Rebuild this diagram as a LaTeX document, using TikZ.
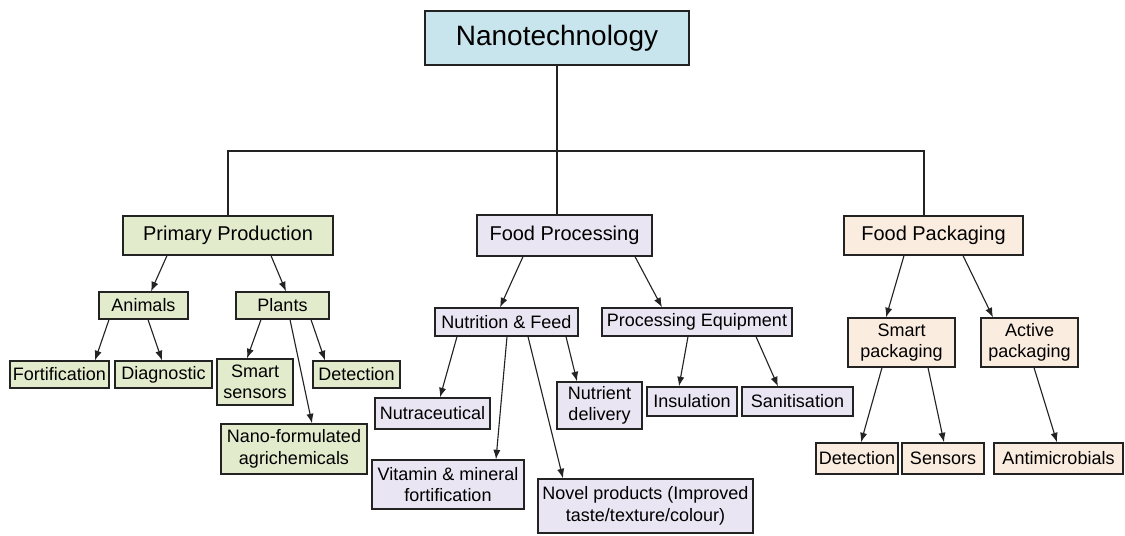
\documentclass[tikz,border=0pt]{standalone}
\usepackage{fontspec}
\setmainfont{Liberation Sans}
\usepackage{xcolor}
\usepackage{tikz}
\usetikzlibrary{arrows.meta,calc}
\definecolor{nanoblue}{RGB}{200,228,236}
\definecolor{softgreen}{RGB}{227,235,205}
\definecolor{softlilac}{RGB}{233,229,242}
\definecolor{softpeach}{RGB}{251,236,224}
\definecolor{darkline}{RGB}{35,35,35}

\begin{document}
\begin{tikzpicture}[x=0.025cm, y=-0.025cm, every node/.style={font=\fontsize{12.8}{15.3}\selectfont, text=black}, box/.style={draw=darkline, line width=0.9pt, align=center, inner sep=0pt}, sz/.style 2 args={minimum width=#1*0.025cm, minimum height=#2*0.025cm}, top/.style={box, fill=nanoblue, line width=1.1pt, font=\fontsize{19.9}{23}\selectfont}, head/.style={box, font=\fontsize{14.2}{17}\selectfont}, gbox/.style={box, fill=softgreen}, lbox/.style={box, fill=softlilac}, pbox/.style={box, fill=softpeach}, arr/.style={-{Latex[length=2.4mm,width=1.8mm]}, line width=0.8pt, draw=darkline}, bus/.style={line width=0.8pt, draw=darkline}]
\useasboundingbox (0,0) rectangle (1125,535);
% root and first level
\node[top, sz={264}{54}] (nano) at (557,38) {Nanotechnology};
\node[head, gbox, sz={210}{39}] (prim) at (228,235.5) {Primary Production};
\node[head, lbox, sz={175}{41}] (proc) at (564.5,235.5) {Food Processing};
\node[head, pbox, sz={179}{39}] (pack) at (933.5,235.5) {Food Packaging};
\coordinate (split) at (557,151);
\draw[bus] (nano.south) -- (nano.south |- proc.north);
\draw[bus] (prim.north) |- (split) -| ($(pack.north)+(-9.5,0)$);
% primary production
\node[gbox, sz={89}{27}] (anim) at (143.5,305.5) {Animals};
\node[gbox, sz={93}{27}] (plant) at (282.5,305.5) {Plants};
\node[gbox, sz={99}{27}] (fort) at (59.5,374.5) {Fortification};
\node[gbox, sz={97}{27}] (diag) at (163.5,374.5) {Diagnostic};
\node[gbox, sz={76}{46}] (smart) at (255,382) {Smart\\sensors};
\node[gbox, sz={87}{27}] (detp) at (356.5,374.5) {Detection};
\node[gbox, sz={146}{50}] (agri) at (294,449) {Nano-formulated\\agrichemicals};
\draw[arr] ($(prim.south)+(-61,0)$) -- ($(anim.north)+(7.5,0)$);
\draw[arr] ($(prim.south)+(43,0)$) -- ($(plant.north)+(3.5,0)$);
\draw[arr] ($(anim.south)+(-34.5,0)$) -- ($(fort.north)+(35.5,0)$);
\draw[arr] ($(anim.south)+(4.5,0)$) -- ($(diag.north)+(-1.5,0)$);
\draw[arr] ($(plant.south)+(-21.5,0)$) -- ($(smart.north)+(-8,0)$);
\draw[arr] ($(plant.south)+(7.5,0)$) -- ($(agri.north)+(18,0)$);
\draw[arr] ($(plant.south)+(28.5,0)$) -- ($(detp.north)+(-31.5,0)$);
% food processing
\node[lbox, sz={143}{28}] (feed) at (506.5,322) {Nutrition \& Feed};
\node[lbox, sz={190}{28}] (equip) at (697,322) {Processing Equipment};
\node[lbox, sz={115}{31}] (nutra) at (432.5,413.5) {Nutraceutical};
\node[lbox, sz={152}{49}] (vitam) at (448,484.5) {Vitamin \& mineral\\fortification};
\node[lbox, sz={215}{54}] (novel) at (645.5,506) {Novel products (Improved\\taste/texture/colour)};
\node[lbox, sz={85}{47}] (deliv) at (599.5,405.5) {Nutrient\\delivery};
\node[lbox, sz={90}{29}] (insul) at (692,401.5) {Insulation};
\node[lbox, sz={111}{29}] (sanit) at (797.5,401.5) {Sanitisation};
\draw[arr] ($(proc.south)+(-41.5,0)$) -- ($(feed.north)+(-6.5,0)$);
\draw[arr] ($(proc.south)+(70.5,0)$) -- ($(equip.north)+(-35,0)$);
\draw[arr] ($(feed.south)+(-49.5,0)$) -- ($(nutra.north)+(7.5,0)$);
\draw[arr] ($(feed.south)+(0.5,0)$) -- ($(vitam.north)+(48,0)$);
\draw[arr] ($(feed.south)+(21.5,0)$) -- ($(novel.north)+(-82.5,0)$);
\draw[arr] ($(feed.south)+(59.5,0)$) -- ($(deliv.north)+(-22.5,0)$);
\draw[arr] ($(equip.south)+(-9,0)$) -- ($(insul.north)+(-13,0)$);
\draw[arr] ($(equip.south)+(59,0)$) -- ($(sanit.north)+(-19.5,0)$);
% food packaging
\node[pbox, sz={107}{49}] (spack) at (901.5,342.5) {Smart\\packaging};
\node[pbox, sz={97}{49}] (apack) at (1029.5,342.5) {Active\\packaging};
\node[pbox, sz={82}{31}] (detk) at (857,458.5) {Detection};
\node[pbox, sz={82}{31}] (sens) at (943,458.5) {Sensors};
\node[pbox, sz={129}{31}] (antim) at (1058.5,458.5) {Antimicrobials};
\draw[arr] ($(pack.south)+(-29.5,0)$) -- ($(spack.north)+(-15.5,0)$);
\draw[arr] ($(pack.south)+(29.5,0)$) -- ($(apack.north)+(-36.5,0)$);
\draw[arr] ($(spack.south)+(-19.5,0)$) -- ($(detk.north)+(4,0)$);
\draw[arr] ($(spack.south)+(26.5,0)$) -- ($(sens.north)+(1,0)$);
\draw[arr] ($(apack.south)+(4.5,0)$) -- ($(antim.north)+(-1.5,0)$);
\end{tikzpicture}
\end{document}
